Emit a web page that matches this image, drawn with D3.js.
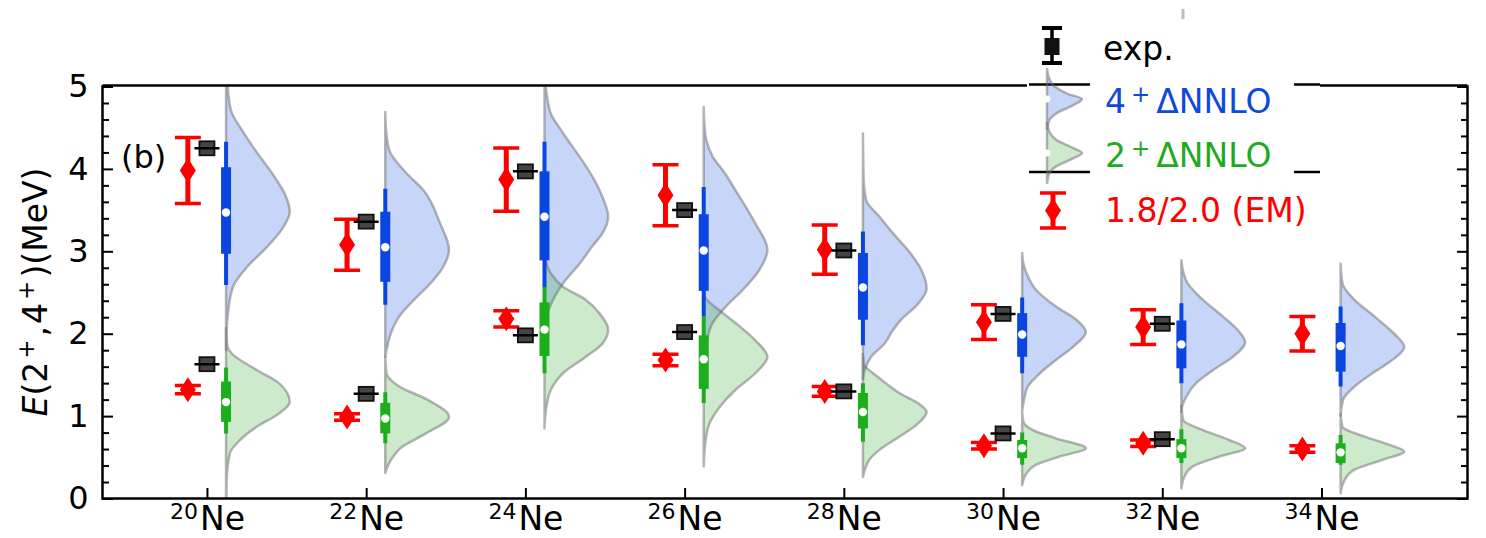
<!DOCTYPE html>
<html><head><meta charset="utf-8">
<script src="https://cdn.jsdelivr.net/npm/d3@7"></script>
<style>
body{margin:0;background:#fff}
svg{display:block}
text{font-family:"DejaVu Sans",sans-serif}
</style>
</head><body>
<svg id="c" width="1486" height="538"></svg>
<script>
// ---------------- data ----------------
const massNumbers = ["20","22","24","26","28","30","32","34"];
const element = "Ne";
const yTicks = [0,1,2,3,4,5];

// 1.8/2.0 (EM)
const em4 = [3.98, 3.08, 3.87, 3.68, 3.02, 2.14, 2.08, 2.00];
const em4Err = [0.40, 0.31, 0.385, 0.37, 0.30, 0.21, 0.21, 0.21];
const em2 = [1.32, 0.99, 2.18, 1.68, 1.30, 0.64, 0.67, 0.60];
const em2Err = [0.05, 0.04, 0.10, 0.07, 0.06, 0.04, 0.04, 0.04];

// experiment
const exp4 = [4.25, 3.36, 3.97, 3.50, 3.01, 2.24, 2.12, null];
const exp2 = [1.63, 1.27, 1.98, 2.02, 1.30, 0.79, 0.72, null];

// ΔNNLO 4+ box statistics
const v4Lo  = [2.59, 2.35, 2.56, 2.21, 1.86, 1.52, 1.40, 1.36];
const v4Q1  = [2.97, 2.63, 2.89, 2.52, 2.17, 1.72, 1.58, 1.54];
const v4Med = [3.47, 3.05, 3.42, 3.01, 2.56, 1.99, 1.87, 1.85];
const v4Q3  = [4.02, 3.48, 3.97, 3.45, 2.98, 2.25, 2.16, 2.13];
const v4Hi  = [4.33, 3.76, 4.33, 3.78, 3.24, 2.44, 2.37, 2.33];
// ΔNNLO 2+ box statistics
const v2Lo  = [0.79, 0.67, 1.52, 1.16, 0.69, 0.41, 0.43, 0.41];
const v2Q1  = [0.93, 0.79, 1.73, 1.33, 0.85, 0.49, 0.49, 0.43];
const v2Med = [1.17, 0.97, 2.05, 1.69, 1.05, 0.61, 0.61, 0.56];
const v2Q3  = [1.42, 1.16, 2.38, 1.98, 1.28, 0.71, 0.72, 0.67];
const v2Hi  = [1.59, 1.29, 2.57, 2.21, 1.40, 0.80, 0.84, 0.77];

// violin density profiles [energy, relative width]
const density4 = [
  [[1.80,0],[2.05,0.01],[2.25,0.03],[2.57,0.11],[2.81,0.33],[3.05,0.64],[3.26,0.87],[3.48,1.0],[3.70,0.92],[3.87,0.79],[4.27,0.42],[4.47,0.25],[4.68,0.09],[4.88,0.04],[5.1,0.02],[5.3,0]],
  [[1.72,0],[1.80,0.02],[2.01,0.09],[2.21,0.22],[2.41,0.45],[2.62,0.72],[2.80,0.9],[3.02,1.0],[3.34,0.86],[3.74,0.6],[3.95,0.33],[4.23,0.06],[4.50,0.01],[4.69,0]],
  [[1.95,0],[2.04,0.01],[2.25,0.05],[2.45,0.16],[2.60,0.28],[2.85,0.55],[3.06,0.75],[3.22,0.91],[3.42,1.0],[3.66,0.91],[3.87,0.78],[4.07,0.62],[4.27,0.44],[4.47,0.26],[4.67,0.1],[4.88,0.04],[5.2,0]],
  [[1.60,0],[1.72,0.01],[1.92,0.05],[2.13,0.14],[2.33,0.35],[2.53,0.61],[2.77,0.87],[3.02,1.0],[3.34,0.81],[3.54,0.66],[3.74,0.5],[3.95,0.33],[4.15,0.14],[4.35,0.04],[4.55,0.01],[4.75,0]],
  [[1.45,0],[1.56,0.03],[1.72,0.13],[1.88,0.34],[2.03,0.46],[2.17,0.6],[2.35,0.85],[2.55,1.0],[2.80,0.9],[3.02,0.7],[3.22,0.47],[3.42,0.26],[3.62,0.05],[3.90,0.01],[4.43,0]],
  [[1.07,0],[1.20,0.03],[1.36,0.09],[1.52,0.28],[1.68,0.53],[1.84,0.8],[2.02,1.0],[2.17,0.85],[2.33,0.53],[2.53,0.22],[2.73,0.07],[2.85,0.02],[2.98,0]],
  [[1.05,0],[1.11,0.01],[1.24,0.08],[1.40,0.23],[1.56,0.5],[1.72,0.81],[1.90,1.0],[2.04,0.89],[2.21,0.65],[2.41,0.34],[2.61,0.1],[2.75,0.03],[2.89,0]],
  [[1.00,0],[1.20,0.04],[1.36,0.22],[1.52,0.5],[1.68,0.81],[1.84,1.0],[2.00,0.84],[2.21,0.53],[2.41,0.22],[2.61,0.03],[2.85,0]]
];
const density2 = [
  [[-0.2,0],[0.0,0.005],[0.22,0.01],[0.55,0.06],[0.71,0.22],[0.87,0.48],[1.03,0.83],[1.17,1.0],[1.40,0.83],[1.56,0.48],[1.76,0.09],[1.85,0.02],[2.07,0]],
  [[0.31,0],[0.47,0.09],[0.63,0.27],[0.79,0.64],[0.99,1.0],[1.20,0.66],[1.36,0.22],[1.52,0.02],[1.72,0]],
  [[0.85,0],[1.11,0.03],[1.32,0.10],[1.52,0.29],[1.72,0.65],[1.88,0.91],[2.05,1.0],[2.25,0.86],[2.41,0.65],[2.57,0.29],[2.73,0.1],[2.89,0.02],[3.0,0]],
  [[0.39,0],[0.71,0.03],[0.91,0.09],[1.11,0.25],[1.32,0.5],[1.52,0.81],[1.72,1.0],[1.92,0.81],[2.13,0.5],[2.27,0.27],[2.45,0.02],[2.6,0]],
  [[0.26,0],[0.35,0.03],[0.47,0.1],[0.59,0.26],[0.75,0.57],[0.90,0.85],[1.05,1.0],[1.15,0.88],[1.28,0.57],[1.40,0.36],[1.52,0.16],[1.62,0.02],[1.75,0]],
  [[0.16,0],[0.31,0.07],[0.41,0.22],[0.51,0.59],[0.61,1.0],[0.73,0.53],[0.83,0.17],[0.93,0.02],[1.05,0]],
  [[0.12,0],[0.27,0.05],[0.39,0.18],[0.51,0.6],[0.61,1.0],[0.71,0.75],[0.83,0.34],[0.95,0.03],[1.13,0]],
  [[0.06,0],[0.22,0.06],[0.35,0.22],[0.47,0.66],[0.57,1.0],[0.65,0.77],[0.75,0.38],[0.87,0.03],[1.03,0]]
];

// legend handle profiles [fraction along handle, relative width]
const legend4Profile = [[0,0],[0.15,0.05],[0.3,0.22],[0.42,0.6],[0.5,1.0],[0.6,0.75],[0.72,0.3],[0.85,0.06],[1,0]];
const legend2Profile = [[0,0],[0.15,0.06],[0.3,0.3],[0.42,0.75],[0.5,1.0],[0.6,0.7],[0.72,0.25],[0.85,0.05],[1,0]];

// ---------------- style ----------------
const BLUE = "#0a45e0", GREEN = "#1cae1c", RED = "#ff0000";
const BLUE_FILL = "rgba(0,64,224,0.22)", GREEN_FILL = "rgba(26,160,26,0.22)";
const VIOLIN_EDGE = "rgba(110,110,110,0.5)";
const emOffset = -0.12, expOffset = 0, violinOffset = 0.12, violinHalf = 0.40;

// ---------------- scales ----------------
const svg = d3.select("#c");
const x = d3.scaleLinear().domain([-0.656, 7.917]).range([102.5, 1467.5]);
const y = d3.scaleLinear().domain([0, 5]).range([498.5, 86.5]);
const X0 = x.range()[0], X1 = x.range()[1], Y0 = y(0), Y1 = y(5);

svg.append("defs").append("clipPath").attr("id","clip").append("rect")
  .attr("x", X0).attr("y", Y1).attr("width", X1 - X0).attr("height", Y0 - Y1);

const plot = svg.append("g").attr("clip-path","url(#clip)");

function drawViolin(i, profile, fill){
  const cx = i + violinOffset;
  const pts = profile.slice().sort((a,b)=>b[0]-a[0]);
  const a = d3.area().curve(d3.curveMonotoneY)
    .y(d => y(d[0])).x0(() => x(cx)).x1(d => x(cx + violinHalf*d[1]));
  plot.append("path").datum(pts).attr("d", a)
    .attr("fill", fill).attr("stroke", VIOLIN_EDGE).attr("stroke-width", 2.5)
    .attr("stroke-linejoin","round");
}
function drawBox(i, lo, q1, med, q3, hi, color){
  const cx = x(i + violinOffset);
  plot.append("line").attr("x1",cx).attr("x2",cx).attr("y1",y(lo)).attr("y2",y(hi))
    .attr("stroke",color).attr("stroke-width",4);
  plot.append("rect").attr("x",cx-5).attr("width",10).attr("y",y(q3)).attr("height",y(q1)-y(q3))
    .attr("fill",color);
  plot.append("circle").attr("cx",cx).attr("cy",y(med)).attr("r",4.2).attr("fill","#fff");
}
const diamond = "M0,-12.5L8,0L0,12.5L-8,0Z";
function drawEM(g, cx, cyTop, cyBot, cy){
  g.append("line").attr("x1",cx).attr("x2",cx).attr("y1",cyTop).attr("y2",cyBot)
    .attr("stroke",RED).attr("stroke-width",5);
  [cyTop, cyBot].forEach(v => g.append("line").attr("x1",cx-13).attr("x2",cx+13)
    .attr("y1",v).attr("y2",v).attr("stroke",RED).attr("stroke-width",3.5));
  g.append("path").attr("d",diamond).attr("transform",`translate(${cx},${cy})`).attr("fill",RED);
}
function drawExp(g, cx, cy){
  g.append("rect").attr("x",cx-7.5).attr("y",cy-7).attr("width",15).attr("height",14)
    .attr("fill","#454545").attr("stroke","#111").attr("stroke-width",1.8);
  g.append("line").attr("x1",cx-12.5).attr("x2",cx+12.5).attr("y1",cy).attr("y2",cy)
    .attr("stroke","#000").attr("stroke-width",2.5);
}

// violins
massNumbers.forEach((m,i) => { drawViolin(i, density4[i], BLUE_FILL); });
massNumbers.forEach((m,i) => { drawViolin(i, density2[i], GREEN_FILL); });
massNumbers.forEach((m,i) => {
  drawBox(i, v4Lo[i], v4Q1[i], v4Med[i], v4Q3[i], v4Hi[i], BLUE);
  drawBox(i, v2Lo[i], v2Q1[i], v2Med[i], v2Q3[i], v2Hi[i], GREEN);
});
// EM and exp
massNumbers.forEach((m,i) => {
  const ex = x(i + emOffset);
  drawEM(plot, ex, y(em4[i]+em4Err[i]), y(em4[i]-em4Err[i]), y(em4[i]));
  drawEM(plot, ex, y(em2[i]+em2Err[i]), y(em2[i]-em2Err[i]), y(em2[i]));
  if (exp4[i] != null) drawExp(plot, x(i + expOffset), y(exp4[i]));
  if (exp2[i] != null) drawExp(plot, x(i + expOffset), y(exp2[i]));
});

// ---------------- axes ----------------
const minor = d3.range(0, 5.001, 0.2).filter(v => Math.abs(v - Math.round(v)) > 1e-6);
function styleAxis(g){
  g.select(".domain").remove();
  g.selectAll(".tick line").attr("stroke","#000").attr("stroke-width",2);
}
const gL = svg.append("g").attr("transform",`translate(${X0},0)`)
  .call(d3.axisLeft(y).tickValues(yTicks).tickSize(-10.5).tickPadding(14).tickFormat(d3.format("d")));
styleAxis(gL);
gL.selectAll(".tick text").attr("font-size",32).attr("font-family","DejaVu Sans").attr("fill","#000");
const gLm = svg.append("g").attr("transform",`translate(${X0},0)`)
  .call(d3.axisLeft(y).tickValues(minor).tickSize(-6.5).tickFormat(""));
styleAxis(gLm);
const gR = svg.append("g").attr("transform",`translate(${X1},0)`)
  .call(d3.axisRight(y).tickValues(yTicks).tickSize(-10.5).tickFormat(""));
styleAxis(gR);
const gRm = svg.append("g").attr("transform",`translate(${X1},0)`)
  .call(d3.axisRight(y).tickValues(minor).tickSize(-6.5).tickFormat(""));
styleAxis(gRm);
const gB = svg.append("g").attr("transform",`translate(0,${Y0})`)
  .call(d3.axisBottom(x).tickValues(d3.range(massNumbers.length)).tickSize(-10.5).tickFormat(""));
styleAxis(gB);
gB.selectAll(".tick").each(function(d){
  const t = d3.select(this).append("text").attr("y", 31).attr("text-anchor","middle")
    .attr("fill","#000").attr("font-size",33);
  t.append("tspan").attr("font-size",22).attr("dy",-11).text(massNumbers[d]);
  t.append("tspan").attr("dy",11).attr("dx",2).text(element);
});

// frame
const frame = svg.append("g").attr("stroke","#000").attr("stroke-width",2.5).attr("fill","none");
frame.append("line").attr("x1",X0).attr("x2",X0).attr("y1",Y1-1.2).attr("y2",Y0+1.2);
frame.append("line").attr("x1",X1).attr("x2",X1).attr("y1",Y1-1.2).attr("y2",Y0+1.2);
frame.append("line").attr("x1",X0).attr("x2",X1).attr("y1",Y0).attr("y2",Y0);
frame.append("line").attr("x1",X0).attr("x2",1027).attr("y1",Y1-1).attr("y2",Y1-1);
frame.append("line").attr("x1",1029).attr("x2",1090).attr("y1",Y1-2).attr("y2",Y1-2);
frame.append("line").attr("x1",1294).attr("x2",1320).attr("y1",Y1-2).attr("y2",Y1-2);
frame.append("line").attr("x1",1320).attr("x2",X1).attr("y1",Y1-1).attr("y2",Y1-1);
frame.append("line").attr("x1",1029).attr("x2",1090).attr("y1",172).attr("y2",172);
frame.append("line").attr("x1",1294).attr("x2",1320).attr("y1",172).attr("y2",172);

// y label
const yl = svg.append("text").attr("transform","translate(47,292) rotate(-90)")
  .attr("text-anchor","middle").attr("font-size",33).attr("fill","#000");
yl.append("tspan").attr("font-style","italic").text("E");
yl.append("tspan").text("(2");
yl.append("tspan").attr("font-size",23).attr("dy",-13).attr("dx",3).text("+");
yl.append("tspan").attr("dy",13).attr("dx",3).text(",");
yl.append("tspan").attr("dx",2).text("4");
yl.append("tspan").attr("font-size",23).attr("dy",-13).attr("dx",3).text("+");
yl.append("tspan").attr("dy",13).attr("dx",3).text(")(MeV)");

// panel label
svg.append("text").attr("x",121).attr("y",168).attr("font-size",32).attr("fill","#000").text("(b)");

// ---------------- legend ----------------
const lg = svg.append("g");
// exp handle
lg.append("line").attr("x1",1052).attr("x2",1052).attr("y1",28).attr("y2",63).attr("stroke","#000").attr("stroke-width",3.5);
[28,63].forEach(v => lg.append("line").attr("x1",1042).attr("x2",1062).attr("y1",v).attr("y2",v).attr("stroke","#000").attr("stroke-width",4));
lg.append("rect").attr("x",1044.5).attr("y",38).attr("width",15).attr("height",17).attr("fill","#111");
// violin handles
function legendViolin(profile, top, bottom, fill){
  const ly = d3.scaleLinear().domain([0,1]).range([top,bottom]);
  const a = d3.area().curve(d3.curveMonotoneY).y(d=>ly(d[0])).x0(1047).x1(d=>1047+35*d[1]);
  lg.append("path").datum(profile).attr("d",a).attr("fill",fill)
    .attr("stroke",VIOLIN_EDGE).attr("stroke-width",2.5);
  lg.append("circle").attr("cx",1047).attr("cy",ly(0.5)).attr("r",3.5).attr("fill","#fff");
}
legendViolin(legend4Profile, 68, 130, BLUE_FILL);
legendViolin(legend2Profile, 122, 184, GREEN_FILL);
// EM handle
drawEM(lg, 1053, 193, 228, 210.5);
// texts
lg.append("text").attr("x",1103).attr("y",60).attr("font-size",33).attr("fill","#000").text("exp.");
function nnloLabel(yy, digit, color){
  const t = lg.append("text").attr("x",1105).attr("y",yy).attr("font-size",33).attr("fill",color);
  t.append("tspan").text(digit);
  t.append("tspan").attr("font-size",23).attr("dy",-11).attr("dx",5).text("+");
  t.append("tspan").attr("dy",11).attr("dx",6).text("ΔNNLO");
}
nnloLabel(113, "4", "#0d49dc");
nnloLabel(167, "2", "#1faa1f");
lg.append("text").attr("x",1105).attr("y",222).attr("font-size",33).attr("fill",RED).text("1.8/2.0 (EM)");
// small stray mark above legend
lg.append("rect").attr("x",1181.5).attr("y",9).attr("width",3).attr("height",10).attr("fill","#b3c6b3");
</script>
</body></html>
